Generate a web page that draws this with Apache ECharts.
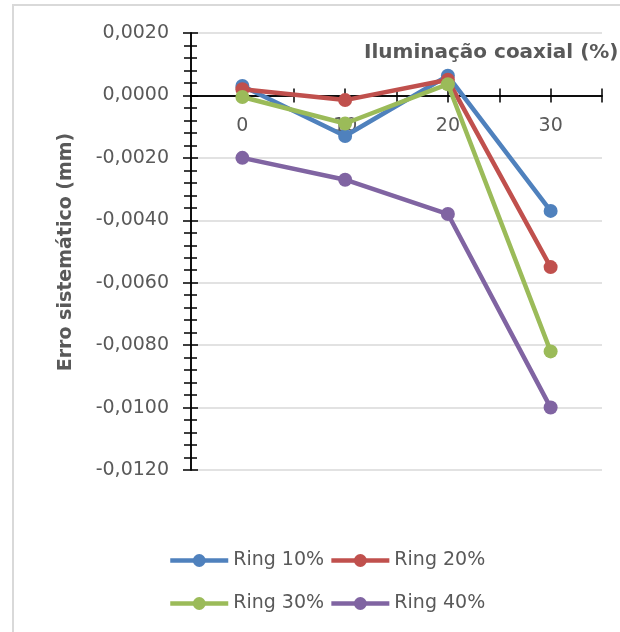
<!DOCTYPE html>
<html>
<head>
<meta charset="utf-8">
<script src="https://cdn.jsdelivr.net/npm/echarts@6/dist/echarts.min.js"></script>
<style>
html,body{margin:0;padding:0;background:#fff;}
#chart{width:620px;height:632px;}
</style>
</head>
<body>
<div id="chart"></div>
<script>
const categories = [0, 10, 20, 30];
const seriesNames = ['Ring 10%', 'Ring 20%', 'Ring 30%', 'Ring 40%'];
const ring10 = [0.0003, -0.0013, 0.00063, -0.0037];
const ring20 = [0.0002, -0.00015, 0.0005, -0.0055];
const ring30 = [-0.00005, -0.0009, 0.00036, -0.0082];
const ring40 = [-0.0020, -0.0027, -0.0038, -0.0100];
const xTickLabels = ['0', '10', '20', '30'];
const xAxisTitle = 'Iluminação coaxial (%)';
const yAxisTitle = 'Erro sistemático (mm)';
const colors = ['#4F81BD', '#C0504D', '#9BBB59', '#8064A2'];

const FONT = '"DejaVu Sans", sans-serif';
const TXT = '#595959';
const allValues = [ring10, ring20, ring30, ring40];
const Y_MIN = -0.012, Y_MAX = 0.002;

function yFmt(v) {
  if (Math.abs(v) < 1e-12) v = 0;
  return v.toFixed(4).replace('.', ',');
}
function xFmt(v) {
  const s = String(Math.round(v));
  return xTickLabels.indexOf(s) >= 0 ? s : '';
}

const xBase = {
  type: 'value', min: -5, max: 35, interval: 5, position: 'bottom',
  splitLine: { show: false },
  axisLine: { show: true, onZero: false, lineStyle: { color: '#000', width: 1.5 } }
};
const yBase = {
  type: 'value', min: Y_MIN, max: Y_MAX, interval: 0.002, position: 'left',
  axisLine: { show: true, onZero: false, lineStyle: { color: '#000', width: 1.5 } }
};
const legendBase = {
  left: 168, padding: 0, itemWidth: 58, itemHeight: 16, itemGap: 5,
  lineStyle: { width: 4.5 },
  textStyle: { fontSize: 19, fontFamily: FONT, color: TXT }
};

const chart = echarts.init(document.getElementById('chart'), null, { renderer: 'canvas' });
chart.setOption({
  animation: false,
  backgroundColor: '#fff',
  color: colors,
  grid: { left: 191, right: 18, top: 33, bottom: 162, containLabel: false },
  xAxis: [
    Object.assign({}, xBase, {
      axisTick: { show: true, inside: false, length: 7, lineStyle: { color: '#000', width: 1.5 } },
      axisLabel: { show: true, formatter: xFmt, margin: 21, color: TXT, fontSize: 19, fontFamily: FONT }
    }),
    Object.assign({}, xBase, {
      axisTick: { show: true, inside: true, length: 7, lineStyle: { color: '#000', width: 1.5 } },
      axisLabel: { show: false }
    })
  ],
  yAxis: [
    Object.assign({}, yBase, {
      axisTick: { show: true, inside: false, length: 8, lineStyle: { color: '#000', width: 1.5 } },
      minorTick: { show: true, splitNumber: 5, length: 7, lineStyle: { color: '#000', width: 1.5 } },
      splitLine: { show: true, lineStyle: { color: '#D9D9D9', width: 1.5 } },
      axisLabel: { show: true, formatter: yFmt, margin: 22, color: TXT, fontSize: 19, fontFamily: FONT }
    }),
    Object.assign({}, yBase, {
      axisTick: { show: true, inside: true, length: 7, lineStyle: { color: '#000', width: 1.5 } },
      minorTick: { show: true, splitNumber: 5, length: 6, lineStyle: { color: '#000', width: 1.5 } },
      splitLine: { show: false },
      axisLabel: { show: false }
    })
  ],
  legend: [
    Object.assign({}, legendBase, { data: seriesNames.slice(0, 2), top: 551 }),
    Object.assign({}, legendBase, { data: seriesNames.slice(2, 4), top: 594 })
  ],
  graphic: [
    { type: 'rect', silent: true, shape: { x: 13, y: 5, width: 900, height: 900 },
      style: { fill: 'none', stroke: '#D9D9D9', lineWidth: 2 } },
    { type: 'text', silent: true, x: 364, y: 53,
      style: { text: xAxisTitle, font: 'bold 20px ' + FONT, fill: TXT, align: 'left', verticalAlign: 'middle' } },
    { type: 'text', silent: true, x: 66, y: 252, rotation: Math.PI / 2,
      style: { text: yAxisTitle, font: 'bold 19px ' + FONT, fill: TXT, align: 'center', verticalAlign: 'middle' } }
  ],
  series: seriesNames.map((name, i) => ({
    name: name,
    type: 'line',
    xAxisIndex: 0,
    yAxisIndex: 0,
    data: categories.map((c, j) => [c, allValues[i][j]]),
    symbol: 'circle',
    symbolSize: 14,
    lineStyle: { width: 4.5, color: colors[i] },
    itemStyle: { color: colors[i] }
  }))
});

// Move the x axes (line, ticks and labels) up to the y = 0 level, using the library's scale.
const zeroY = chart.convertToPixel({ yAxisIndex: 0 }, 0);
const bottomY = chart.convertToPixel({ yAxisIndex: 0 }, Y_MIN);
const off = zeroY - bottomY;
chart.setOption({ xAxis: [{ offset: off }, { offset: off }] });
</script>
</body>
</html>
